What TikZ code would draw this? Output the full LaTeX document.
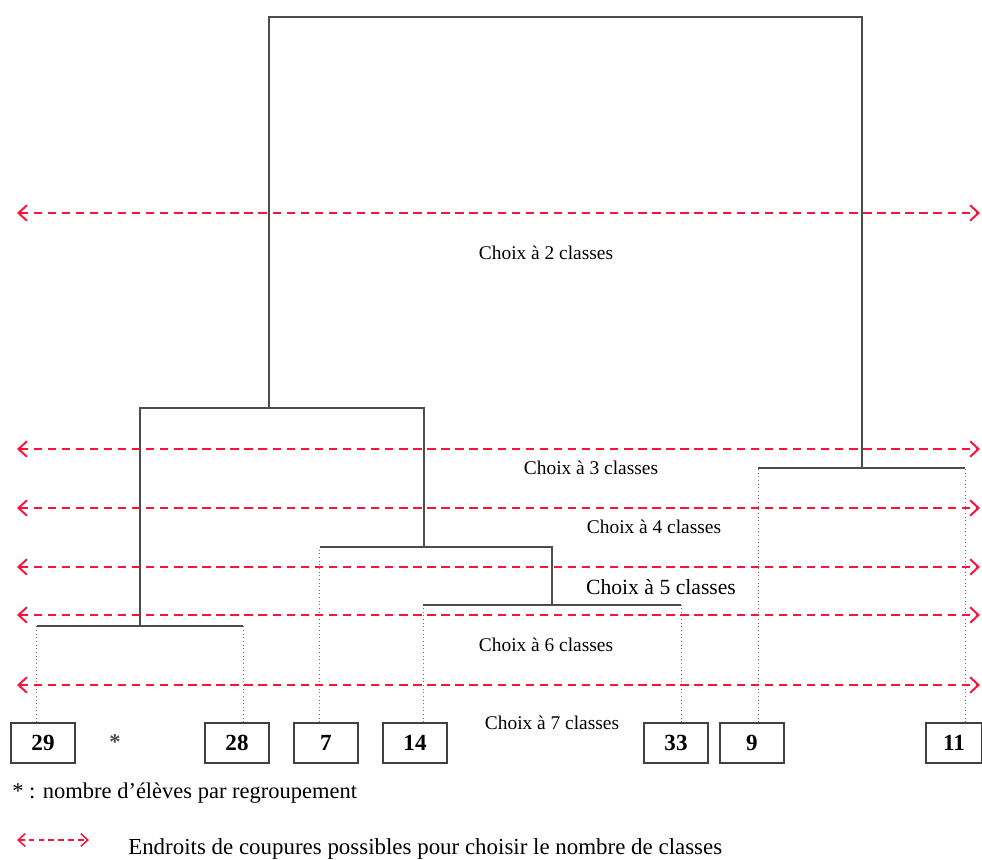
\documentclass[tikz,border=0pt]{standalone}
\usepackage{fontspec}
\setmainfont{Liberation Serif}
\usetikzlibrary{arrows.meta,positioning}

\definecolor{cutred}{RGB}{250,20,60}

\begin{document}
\begin{tikzpicture}[x=0.025cm,y=-0.025cm,
    >={Straight Barb[length=6pt,width=11pt]}]
  \tikzstyle{leaf}=[draw=black!75,line width=1pt,minimum width=1.6cm,minimum height=1cm,
    inner sep=0pt,font=\fontsize{16.4}{18}\selectfont\bfseries]
  \tikzstyle{leafline}=[black!55,line width=0.6pt,dotted]
  \tikzstyle{branch}=[black!70,line width=0.8pt]
  \tikzstyle{cut}=[cutred,line width=1.4pt,dash pattern=on 6pt off 4pt,<->]
  \tikzstyle{lab}=[font=\fontsize{13.8}{16}\selectfont]

  \useasboundingbox (0,0) rectangle (982,860);

  % leaves
  \node[leaf] (n29) at (43,743)  {29};
  \node[leaf] (n28) at (237,743) {28};
  \node[leaf] (n7)  at (326,743) {7};
  \node[leaf] (n14) at (415,743) {14};
  \node[leaf] (n33) at (676,743) {33};
  \node[leaf] (n9)  at (752,743) {9};
  \node[leaf,minimum width=1.4cm] (n11) at (954,743) {11};
  \node[lab,black!70,font=\fontsize{16}{18}\selectfont\bfseries] (star) at (115,742) {*};

  \foreach \n/\s in {29/-.16,28/.15,7/-.16,14/.21,33/.125,9/.15,11/.275}
    \coordinate (t\n) at ([xshift=\s cm]n\n.north);

  % merges
  \coordinate (a) at (140,626);
  \coordinate (b) at (552,605);
  \coordinate (c) at (424,547);
  \coordinate (d) at (269,408);
  \coordinate (e) at (862,468);
  \coordinate (r) at (565,17);

  \draw[leafline] (t29) -- (t29 |- a) (t28) -- (t28 |- a)
    (t7) -- (t7 |- c) (t14) -- (t14 |- b) (t33) -- (t33 |- b)
    (t9) -- (t9 |- e) (t11) -- (t11 |- e);

  \draw[branch] (t29 |- a) -- (t28 |- a);
  \draw[branch] (t14 |- b) -- (t33 |- b);
  \draw[branch] (t7 |- c) -- (b |- c) -- (b);
  \draw[branch] (a) -- (a |- d) -- (c |- d) -- (c);
  \draw[branch] (t9 |- e) -- (t11 |- e);
  \draw[branch] (d) -- (d |- r) -- (e |- r) -- (e);

  % cuts
  \foreach \y [count=\i] in {213,449,508,567,615,685} {
    \coordinate (cl\i) at (17,\y);
    \coordinate (cr\i) at (980,\y);
    \draw[cut] (cl\i) -- (cr\i);
  }

  \node[lab] (lab2) at (546,253) {Choix à 2 classes};
  \node[lab] (lab3) at (591,468) {Choix à 3 classes};
  \node[lab] (lab4) at (654,527) {Choix à 4 classes};
  \node[lab,font=\fontsize{15.4}{18}\selectfont] (lab5) at (661,587) {Choix à 5 classes};
  \node[lab] (lab6) at (546,645) {Choix à 6 classes};
  \node[lab] (lab7) at (552,723) {Choix à 7 classes};

  % legend
  \node[lab,anchor=west,inner sep=0pt,font=\fontsize{16}{18}\selectfont] (leg1) at (12,793) {* : nombre d'élèves par regroupement};
  \coordinate (ll) at (17,840);
  \coordinate (lr) at (89,840);
  \draw[cut,line width=1.1pt,dash pattern=on 4pt off 3pt,>={Straight Barb[length=5pt,width=9pt]}] (ll) -- (lr);
  \node[lab,anchor=base west,inner sep=0pt,font=\fontsize{16.3}{18}\selectfont] (leg2) at (128,854) {Endroits de coupures possibles pour choisir le nombre de classes};
\end{tikzpicture}
\end{document}
